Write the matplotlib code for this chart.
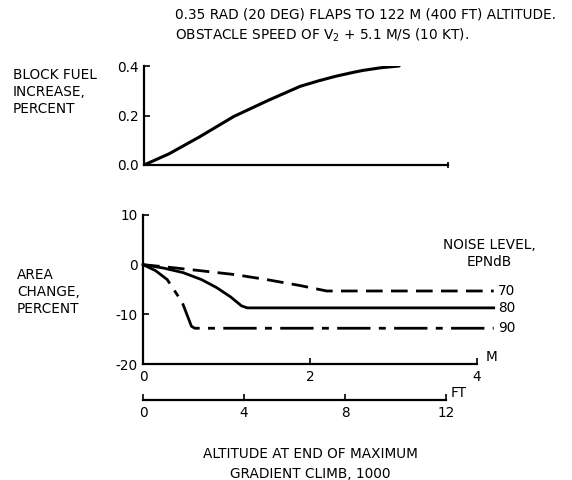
import matplotlib
matplotlib.use("Agg")
import matplotlib.pyplot as plt
import numpy as np

plt.rcParams['font.family'] = ['DejaVu Sans']
plt.rcParams['axes.unicode_minus'] = False

# Data (x in 1000 m)
fuel_x = [0.0, 0.3, 0.67, 1.08, 1.5, 1.88, 2.1, 2.3, 2.5, 2.63, 2.85, 3.07]
fuel_y = [0.0, 0.045, 0.114, 0.196, 0.262, 0.318, 0.340, 0.358, 0.373, 0.382, 0.393, 0.40]

n70_x = [0.0, 0.3, 0.68, 1.1, 1.48, 1.88, 2.2, 4.2]
n70_y = [0.0, -0.5, -1.2, -2.0, -3.0, -4.2, -5.3, -5.3]

n80_x = [0.0, 0.25, 0.48, 0.7, 0.88, 1.05, 1.18, 1.25, 4.2]
n80_y = [0.0, -0.7, -1.6, -3.0, -4.6, -6.5, -8.3, -8.7, -8.7]

n90_x = [0.0, 0.15, 0.29, 0.47, 0.58, 0.62, 4.2]
n90_y = [0.0, -1.2, -3.0, -7.6, -12.4, -12.8, -12.8]

noise_labels = ["70", "80", "90"]
fuel_yticks = [0.0, 0.2, 0.4]
fuel_yticklabels = ["0.0", "0.2", "0.4"]
area_yticks = [-20, -10, 0, 10]
m_ticks = [0, 2, 4]
ft_ticks = [0, 4, 8, 12]

FS = 9.8
fig = plt.figure(figsize=(5.72, 4.8), dpi=100)

def style(ax):
    for s in ['top', 'right']:
        ax.spines[s].set_visible(False)
    for s in ['left', 'bottom']:
        ax.spines[s].set_linewidth(1.6)
    ax.tick_params(direction='in', length=4, width=1.2, labelsize=FS, pad=4)

# Top panel
ax1 = fig.add_axes([144/572, 1-165/480, 304/572, 99/480])
ax1.plot(fuel_x, fuel_y, color='black', lw=2.2, solid_capstyle='round')
ax1.set_xlim(0, 12*0.3048)
ax1.set_ylim(0, 0.4)
style(ax1)
ax1.set_yticks(fuel_yticks)
ax1.set_yticklabels(fuel_yticklabels)
ax1.set_xticks([])
ax1.plot([1], [0], transform=ax1.transAxes, marker='|', color='black', ms=5, mew=1.2, clip_on=False)
fig.text(13/572, 1-92/480, "BLOCK FUEL\nINCREASE,\nPERCENT", fontsize=FS, va='center',
         ha='left', linespacing=1.3)

# Bottom panel
ax2 = fig.add_axes([143/572, 1-364/480, 334/572, 149/480])
ax2.plot(n70_x, n70_y, color='black', lw=2.0, linestyle=(0, (6, 3)), clip_on=False)
ax2.plot(n80_x, n80_y, color='black', lw=2.0, clip_on=False)
ax2.plot(n90_x, n90_y, color='black', lw=2.0, linestyle=(0, (12, 3, 2.5, 3)), clip_on=False)
for lab, yv in zip(noise_labels, [n70_y[-1], n80_y[-1], n90_y[-1]]):
    ax2.text(4.25, yv, lab, fontsize=FS, va='center', ha='left')
ax2.set_xlim(0, 4)
ax2.set_ylim(-20, 10)
style(ax2)
ax2.set_yticks(area_yticks)
ax2.set_xticks(m_ticks)
ax2.text(4.1, -20, "M", fontsize=FS, va='bottom', ha='left')
ax2.text(4.15, 2.2, "NOISE LEVEL,\nEPNdB", fontsize=FS, ha='center', va='center',
         linespacing=1.3)
fig.text(17/572, 1-292/480, "AREA\nCHANGE,\nPERCENT", fontsize=FS, va='center',
         ha='left', linespacing=1.3)

# FT axis
ax3 = fig.add_axes([143/572, 1-400/480, 303/572, 0.001])
ax3.set_xlim(0, 12)
ax3.set_yticks([])
for s in ['top', 'right', 'left']:
    ax3.spines[s].set_visible(False)
ax3.spines['bottom'].set_linewidth(1.6)
ax3.tick_params(axis='x', direction='in', length=4, width=1.2, labelsize=FS, pad=4)
ax3.set_xticks(ft_ticks)
ax3.patch.set_visible(False)
ax3.text(12.2, 0, "FT", fontsize=FS, va='bottom', ha='left',
         transform=ax3.get_xaxis_transform())

fig.text(310/572, 1-464/480, "ALTITUDE AT END OF MAXIMUM\nGRADIENT CLIMB, 1000", fontsize=FS,
         ha='center', va='center', linespacing=1.5)

fig.text(175/572, 1-15/480, "0.35 RAD (20 DEG) FLAPS TO 122 M (400 FT) ALTITUDE.",
         fontsize=FS, ha='left', va='center')
fig.text(175/572, 1-35/480, "OBSTACLE SPEED OF V$_2$ + 5.1 M/S (10 KT).",
         fontsize=FS, ha='left', va='center')

fig.savefig("out.png", dpi=100)
